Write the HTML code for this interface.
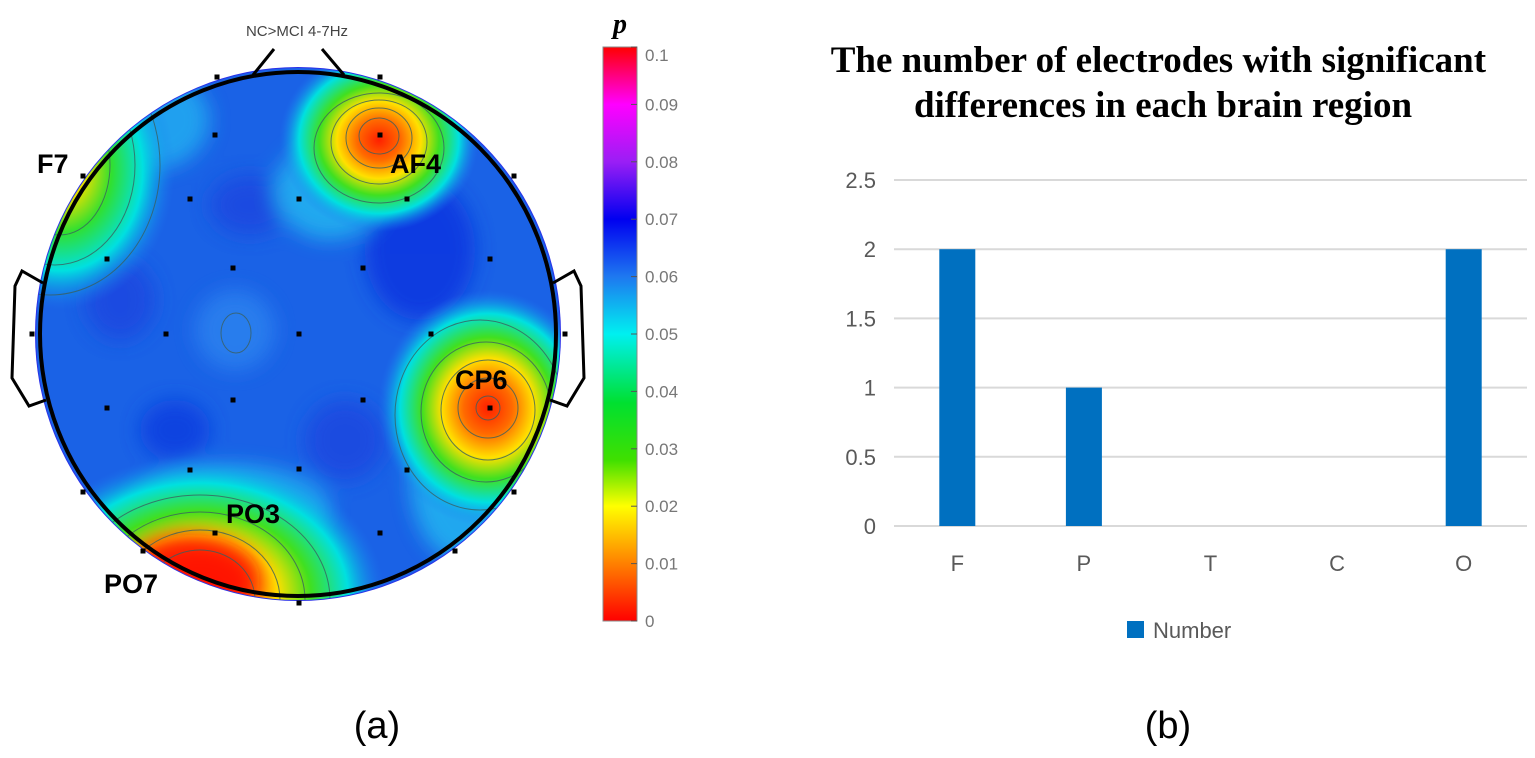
<!DOCTYPE html>
<html><head><meta charset="utf-8"><style>
html,body{margin:0;padding:0;background:#fff;}
svg{display:block;}
</style></head><body>
<svg id="root" width="1535" height="758" viewBox="0 0 1535 758" xmlns="http://www.w3.org/2000/svg">
<defs>
 <clipPath id="headClip"><ellipse cx="298" cy="334" rx="262" ry="266"/></clipPath>
 <filter id="blur8" x="-50%" y="-50%" width="200%" height="200%"><feGaussianBlur stdDeviation="10"/></filter>
 <linearGradient id="cbar" x1="0" y1="0" x2="0" y2="1">
  <stop offset="0" stop-color="#ff0000"/>
  <stop offset="0.1" stop-color="#ff00ff"/>
  <stop offset="0.2" stop-color="#9a1ef5"/>
  <stop offset="0.3" stop-color="#0000f0"/>
  <stop offset="0.4" stop-color="#1e78f0"/>
  <stop offset="0.5" stop-color="#00f0f0"/>
  <stop offset="0.62" stop-color="#00e030"/>
  <stop offset="0.72" stop-color="#40e000"/>
  <stop offset="0.8" stop-color="#ffff00"/>
  <stop offset="0.9" stop-color="#ff8000"/>
  <stop offset="1" stop-color="#ff0000"/>
 </linearGradient>
 <radialGradient id="hot">
  <stop offset="0" stop-color="#ff2000"/>
  <stop offset="0.22" stop-color="#ff6a00"/>
  <stop offset="0.42" stop-color="#ffe000"/>
  <stop offset="0.6" stop-color="#40e020"/>
  <stop offset="0.8" stop-color="#00e0e0"/>
  <stop offset="1" stop-color="#1e78f0" stop-opacity="0"/>
 </radialGradient>
 <radialGradient id="warm">
  <stop offset="0" stop-color="#ff9000"/>
  <stop offset="0.22" stop-color="#e8e000"/>
  <stop offset="0.45" stop-color="#30e030"/>
  <stop offset="0.72" stop-color="#00e0e0"/>
  <stop offset="1" stop-color="#1e78f0" stop-opacity="0"/>
 </radialGradient>
</defs>

<g>
 <ellipse cx="298" cy="334" rx="263" ry="267" fill="#2a30e8"/>
 <g clip-path="url(#headClip)">
  <rect x="30" y="60" width="540" height="560" fill="#1a62e6"/>
  <g filter="url(#blur8)" opacity="0.9">
   <ellipse cx="420" cy="250" rx="55" ry="70" fill="#1038e0"/>
   <ellipse cx="250" cy="205" rx="40" ry="30" fill="#1a48e0"/>
   <ellipse cx="175" cy="430" rx="35" ry="30" fill="#1040e0"/>
   <ellipse cx="120" cy="300" rx="35" ry="40" fill="#1a4ae0"/>
   <ellipse cx="235" cy="330" rx="40" ry="40" fill="#2a80ee"/>
   <ellipse cx="345" cy="440" rx="40" ry="40" fill="#1a4ae0"/>
   <ellipse cx="150" cy="120" rx="60" ry="50" fill="#20a8f0"/>
   <ellipse cx="330" cy="190" rx="55" ry="50" fill="#20b0f0"/>
   <ellipse cx="460" cy="480" rx="50" ry="80" fill="#20b0f0"/>
   <ellipse cx="230" cy="510" rx="100" ry="45" fill="#20b0f0"/>
  </g>
  <ellipse cx="379" cy="140" rx="100" ry="92" fill="url(#hot)"/>
  <ellipse cx="488" cy="408" rx="110" ry="118" fill="url(#hot)"/>
  <ellipse cx="60" cy="170" rx="115" ry="140" fill="url(#warm)"/>
  <ellipse cx="200" cy="595" rx="185" ry="140" fill="url(#hot)"/>
  <ellipse cx="190" cy="580" rx="70" ry="45" fill="#ff1000" opacity="0.9" filter="url(#blur8)"/>
  <g fill="none" stroke="#3a6060" stroke-width="1" opacity="0.8">
   <ellipse cx="379" cy="136" rx="20" ry="18"/><ellipse cx="379" cy="138" rx="33" ry="30"/><ellipse cx="379" cy="142" rx="48" ry="42"/><ellipse cx="379" cy="148" rx="65" ry="55"/>
   <ellipse cx="488" cy="408" rx="12" ry="12"/><ellipse cx="488" cy="408" rx="30" ry="30"/><ellipse cx="488" cy="410" rx="47" ry="50"/><ellipse cx="486" cy="412" rx="65" ry="70"/><ellipse cx="480" cy="415" rx="85" ry="95"/>
   <ellipse cx="200" cy="600" rx="55" ry="50"/><ellipse cx="200" cy="600" rx="80" ry="70"/><ellipse cx="200" cy="600" rx="105" ry="88"/><ellipse cx="200" cy="600" rx="130" ry="105"/>
   <ellipse cx="60" cy="165" rx="50" ry="70"/><ellipse cx="55" cy="165" rx="80" ry="100"/><ellipse cx="50" cy="165" rx="110" ry="130"/>
   <ellipse cx="236" cy="333" rx="15" ry="20"/>
  </g>
 </g>
 <ellipse cx="298" cy="334" rx="258" ry="262" fill="none" stroke="#000" stroke-width="4"/>
 <polyline points="253,75 274,49" stroke="#000" stroke-width="3" fill="none"/>
 <polyline points="344,75 322,49" stroke="#000" stroke-width="3" fill="none"/>
 <polyline points="43,283 22,271 15,286 12,378 29,406 46,400" stroke="#000" stroke-width="3" fill="none"/>
 <polyline points="553,283 574,271 581,286 584,378 567,406 550,400" stroke="#000" stroke-width="3" fill="none"/>
 <g id="dots" fill="#000"></g>
 <text x="297" y="36" font-family="Liberation Sans, sans-serif" font-size="15" fill="#444" text-anchor="middle">NC&gt;MCI 4-7Hz</text>
 <g font-family="Liberation Sans, sans-serif" font-weight="bold" font-size="27" fill="#000">
  <text x="37" y="173">F7</text>
  <text x="390" y="173">AF4</text>
  <text x="455" y="389">CP6</text>
  <text x="226" y="523">PO3</text>
  <text x="104" y="593">PO7</text>
 </g>
</g>

<g>
 <rect x="603" y="47" width="34" height="574" fill="url(#cbar)" stroke="#888" stroke-width="1"/>
 <text x="613" y="33" font-family="Liberation Serif, serif" font-style="italic" font-weight="bold" font-size="28" fill="#000">p</text>
 <g id="cticks" font-family="Liberation Sans, sans-serif" font-size="17" fill="#777"></g>
</g>

<g>
 <text font-family="Liberation Serif, serif" font-weight="bold" font-size="37" fill="#000" text-anchor="middle">
  <tspan x="1163" y="72">The number of electrodes with significant</tspan>
  <tspan x="1163" y="117">differences in each brain region</tspan>
 </text>
 <g id="grid"></g>
 <g id="bars"></g>
 <g id="xlabels" font-family="Liberation Sans, sans-serif" font-size="22" fill="#595959" text-anchor="middle"></g>
 <rect x="1127" y="621" width="17" height="17" fill="#0070c0"/>
 <text x="1153" y="638" font-family="Liberation Sans, sans-serif" font-size="22" fill="#595959">Number</text>
</g>

<text x="377" y="738" font-family="Liberation Sans, sans-serif" font-size="38" fill="#000" text-anchor="middle">(a)</text>
<text x="1168" y="738" font-family="Liberation Sans, sans-serif" font-size="38" fill="#000" text-anchor="middle">(b)</text>
</svg>
<script>
const categories = ["F","P","T","C","O"];
const values = [2,1,0,0,2];
const yTicks = [0,0.5,1,1.5,2,2.5];
const cbarTicks = [0,0.01,0.02,0.03,0.04,0.05,0.06,0.07,0.08,0.09,0.1];
const electrodeX = [217,380,215,380,83,514,190,299,407,107,233,363,490,32,166,299,431,565,107,233,363,490,190,299,407,83,514,143,215,380,455,299];
const electrodeY = [77,77,135,135,176,176,199,199,199,259,268,268,259,334,334,334,334,334,408,400,400,408,470,469,470,492,492,551,533,533,551,603];

const NS = "http://www.w3.org/2000/svg";
const plotL = 894, plotR = 1527, y0 = 526, pxPerUnit = 138.4;
const yScale = v => y0 - v * pxPerUnit;
const band = (plotR - plotL) / categories.length;
const xCenter = i => plotL + band * (i + 0.5);

const grid = document.getElementById('grid');
yTicks.forEach(t => {
  const l = document.createElementNS(NS, 'line');
  l.setAttribute('x1', plotL); l.setAttribute('x2', plotR);
  l.setAttribute('y1', yScale(t)); l.setAttribute('y2', yScale(t));
  l.setAttribute('stroke', '#d9d9d9'); l.setAttribute('stroke-width', '2');
  
  
  grid.appendChild(l);
  const tx = document.createElementNS(NS, 'text');
  tx.setAttribute('x', 876); tx.setAttribute('y', yScale(t) + 8);
  tx.setAttribute('text-anchor', 'end');
  tx.setAttribute('font-family', 'Liberation Sans, sans-serif');
  tx.setAttribute('font-size', '22'); tx.setAttribute('fill', '#595959');
  tx.textContent = String(t);
  
  
  grid.appendChild(tx);
});

const bars = document.getElementById('bars');
const xl = document.getElementById('xlabels');
const bw = 36;
categories.forEach((c, i) => {
  const v = values[i];
  if (v > 0) {
    const r = document.createElementNS(NS, 'rect');
    r.setAttribute('x', xCenter(i) - bw / 2);
    r.setAttribute('y', yScale(v));
    r.setAttribute('width', bw);
    r.setAttribute('height', y0 - yScale(v));
    r.setAttribute('fill', '#0070c0');
    
    
    bars.appendChild(r);
  }
  const t = document.createElementNS(NS, 'text');
  t.setAttribute('x', xCenter(i)); t.setAttribute('y', 571);
  t.textContent = c;
  
  
  xl.appendChild(t);
});

const ct = document.getElementById('cticks');
const cTop = 47, cBot = 621;
cbarTicks.forEach(v => {
  const y = cBot - (v / 0.1) * (cBot - cTop);
  const tk = document.createElementNS(NS, 'line');
  tk.setAttribute('x1', 631); tk.setAttribute('x2', 637);
  tk.setAttribute('y1', y); tk.setAttribute('y2', y);
  tk.setAttribute('stroke', '#555');
  
  
  ct.appendChild(tk);
  const t = document.createElementNS(NS, 'text');
  t.setAttribute('x', 645); t.setAttribute('y', y + 6 + (v === 0.1 ? 8 : 0));
  t.textContent = String(v);
  
  
  ct.appendChild(t);
});

const dots = document.getElementById('dots');
electrodeX.forEach((x, i) => {
  const d = document.createElementNS(NS, 'rect');
  d.setAttribute('x', x - 2.5); d.setAttribute('y', electrodeY[i] - 2.5);
  d.setAttribute('width', 5); d.setAttribute('height', 5);
  
  
  dots.appendChild(d);
});
</script>
</body></html>
